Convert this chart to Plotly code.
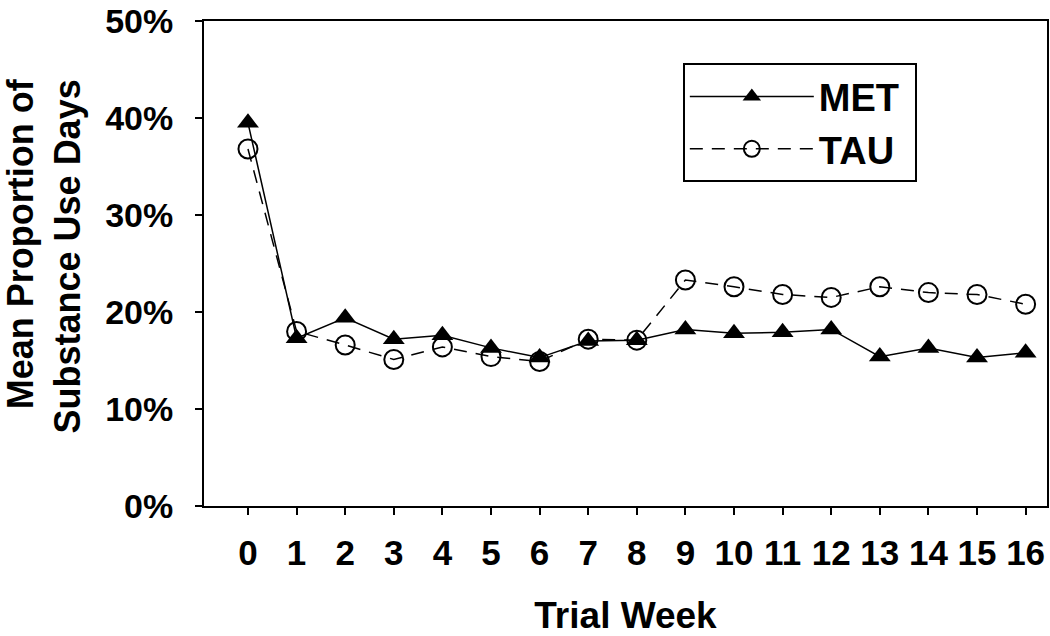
import plotly.graph_objects as go

weeks = list(range(17))
met = [39.5, 17.3, 19.4, 17.2, 17.6, 16.3, 15.3, 17.0, 17.1, 18.2, 17.8, 17.9, 18.2, 15.4, 16.3, 15.3, 15.8]
tau = [36.8, 18.0, 16.6, 15.1, 16.4, 15.4, 14.9, 17.2, 17.1, 23.3, 22.6, 21.8, 21.5, 22.6, 22.0, 21.8, 20.8]
y_ticks = [0, 10, 20, 30, 40, 50]
y_labels = [f"{v}%" for v in y_ticks]

FONT = "Liberation Sans, Arial, sans-serif"

fig = go.Figure()
fig.add_trace(go.Scatter(
    x=weeks, y=met, name="MET\u00a0", mode="lines+markers",
    line=dict(color="black", width=1.5),
    marker=dict(symbol="triangle-up", size=19, color="black"),
))
fig.add_trace(go.Scatter(
    x=weeks, y=tau, name="TAU\u00a0", mode="lines+markers",
    line=dict(color="black", width=1.5, dash="13px,9px"),
    marker=dict(symbol="circle-open", size=19, color="black", line=dict(width=2)),
))

fig.update_layout(
    width=1050, height=636,
    margin=dict(l=204, r=3, t=21, b=130, autoexpand=False),
    paper_bgcolor="white", plot_bgcolor="white",
    font=dict(family=FONT, color="black"),
    showlegend=True,
    legend=dict(
        x=0.568, y=0.913, xanchor="left", yanchor="top",
        bgcolor="white", bordercolor="black", borderwidth=2,
        font=dict(family=FONT, size=38, weight="bold", color="black"),
        tracegroupgap=0, itemwidth=124,
    ),
    annotations=[dict(
        text="Mean Proportion of<br>Substance Use Days",
        xref="paper", yref="paper", x=-0.1895, y=0.515,
        xanchor="center", yanchor="middle", textangle=-90, align="right",
        showarrow=False,
        font=dict(family=FONT, size=36, weight="bold", color="black"),
    )],
)
fig.update_xaxes(
    range=[-0.905, 16.44], tickmode="array", tickvals=weeks,
    ticktext=[str(w) for w in weeks], automargin=False,
    showline=True, linecolor="black", linewidth=2, mirror=True,
    ticks="outside", ticklen=7, tickwidth=2, tickcolor="black",
    ticklabelstandoff=8,
    tickfont=dict(family=FONT, size=35, weight="bold", color="black"),
    showgrid=False, zeroline=False,
    title=dict(text="Trial Week", standoff=31,
               font=dict(family=FONT, size=37, weight="bold", color="black")),
)
fig.update_yaxes(
    range=[0, 50], tickmode="array", tickvals=y_ticks, ticktext=y_labels,
    showline=True, linecolor="black", linewidth=2, mirror=True, automargin=False,
    ticks="outside", ticklen=7, tickwidth=2, tickcolor="black",
    ticklabelstandoff=15,
    tickfont=dict(family=FONT, size=34, weight="bold", color="black"),
    showgrid=False, zeroline=False,
)

fig.write_html(
    "out.html",
    config={"displayModeBar": False},
    post_script="document.body.style.margin='0';document.body.style.overflow='hidden';",
)
